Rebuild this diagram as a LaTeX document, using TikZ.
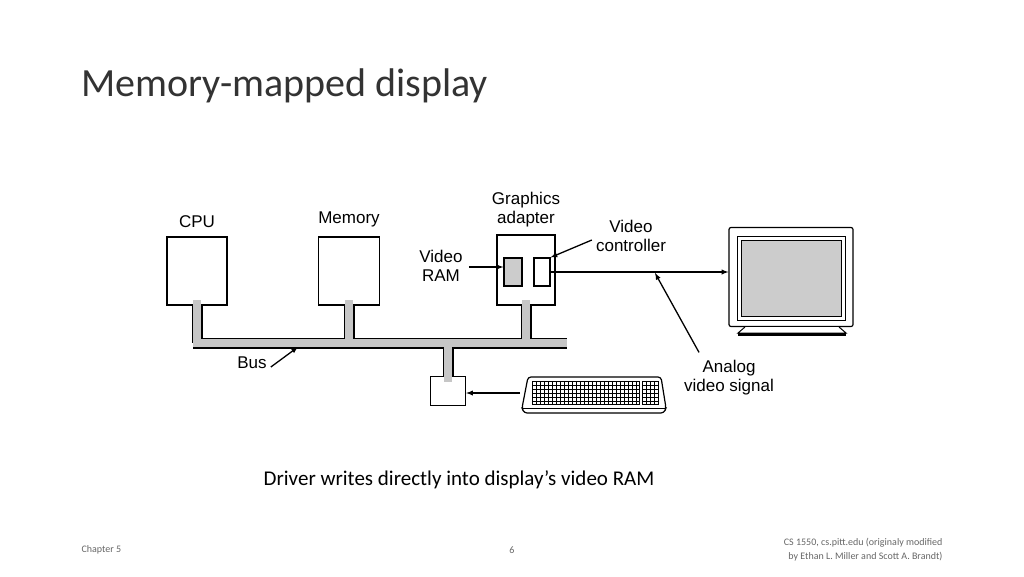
\documentclass[tikz,border=0pt]{standalone}
\usepackage{fontspec}
\setmainfont{Carlito}
\newfontfamily\figfont{Liberation Sans}
\usetikzlibrary{positioning}
\tikzset{
  unit/.style={draw,line width=1.2pt,fill=white,inner sep=0pt},
  lbl/.style={font=\figfont\fontsize{17}{19}\selectfont,align=center,inner sep=0pt},
  ptr/.style={-latex,line width=1.3pt},
  pipeout/.style={line width=11pt,black},
  pipein/.style={line width=8pt,gray!45},
}
\begin{document}
\begin{tikzpicture}[x=1pt,y=-1pt]
\useasboundingbox (0,0) rectangle (1024,576);
% title
\node[anchor=west,font=\fontsize{40}{44}\selectfont,text=black!80] (title) at (78,86) {Memory-mapped display};
% units
\node[unit,minimum width=60,minimum height=68] (cpu) at (197,271) {};
\node[unit,minimum width=61,minimum height=68] (mem) at (349,271) {};
\node[unit,minimum width=58,minimum height=70] (gfx) at (526,270) {};
\node[unit,minimum width=35,minimum height=29] (kbc) at (448,391) {};
\node[lbl,above=9pt of cpu] (cpulbl) {CPU};
\node[lbl,above=9pt of mem] (memlbl) {Memory};
\node[lbl,above=7pt of gfx] (gfxlbl) {Graphics\\adapter};
% bus
\foreach \s in {pipeout,pipein}{
  \draw[\s] (193,343) -- (567,343);
  \draw[\s] (cpu.south) -- (197,343);
  \draw[\s] (mem.south) -- (349,343);
  \draw[\s] (gfx.south) -- (526,343);
  \draw[\s] (448,343) -- (kbc.north);
}
\draw[pipein] (197,300) -- (197,338);
\draw[pipein] (349,300) -- (349,338);
\draw[pipein] (526,300) -- (526,338);
\draw[pipein] (448,348) -- (448,382);
% video ram and controller
\node[unit,fill=gray!40,minimum width=18,minimum height=28] (vram) at (513,272) {};
\node[unit,minimum width=16,minimum height=28] (vctl) at (542,272) {};
\node[lbl] (vramlbl) at (441,266) {Video\\RAM};
\node[lbl] (vctllbl) at (631,236) {Video\\controller};
\draw[ptr] (vramlbl.east) ++(6,1) coordinate (vr0) -- (vram.west |- vr0);
\draw[ptr] (vctllbl.west) ++(-4,4) coordinate (vc0) -- (vctl.north east);
% monitor
\node[unit,minimum width=124,minimum height=99,rounded corners=2pt] (mon) at (791,277) {};
\draw[line width=1pt] (737,236) rectangle (845,320);
\fill[gray!40,draw=black,line width=0.8pt] (741,240) rectangle (841,316);
\draw[line width=1pt,fill=white] (745,327) -- (738,333) -- (846,333) -- (839,327);
\fill (738,333) rectangle (846,336);
\draw[ptr] (vctl.east) -- (mon.west |- vctl.east) coordinate (sig);
\node[lbl] (anlbl) at (729,378) {Analog\\video signal};
\draw[ptr] (anlbl.north) ++(-30,-8) -- (655,273);
% keyboard
\coordinate (kb) at (522,377);
\draw[line width=1.2pt,fill=white,rounded corners=3pt] (528,377) -- (661,377) -- (666,408) -- (664,413) -- (524,413) -- (522,408) -- cycle;
\draw[line width=0.8pt] (522,408) -- (666,408);
\draw[line width=0.8pt] (532,381) rectangle (639,404);
\draw[line width=0.8pt] (642,381) rectangle (658,404);
\foreach \x in {536,540,...,636} \draw[line width=0.5pt] (\x,381) -- (\x,404);
\foreach \x in {646,650,654} \draw[line width=0.5pt] (\x,381) -- (\x,404);
\foreach \y in {385,389,...,401} \draw[line width=0.5pt] (532,\y) -- (639,\y) (642,\y) -- (658,\y);
\draw[ptr] (520,393) -- (kbc.east |- 0,393);
% bus label
\node[lbl] (buslbl) at (252,363) {Bus};
\draw[ptr] (buslbl.east) ++(4,4) -- (298,347);
% caption and footer
\node[font=\fontsize{21}{24}\selectfont] (cap) at (459,480) {Driver writes directly into display's video RAM};
\node[anchor=west,font=\fontsize{10}{12}\selectfont,text=black!60] (chap) at (78,550) {Chapter 5};
\node[font=\fontsize{10}{12}\selectfont,text=black!60] (page) at (512,550) {6};
\node[anchor=east,align=right,font=\fontsize{10}{14}\selectfont,text=black!60] (cred) at (946,550) {CS 1550, cs.pitt.edu (originaly modified\\by Ethan L. Miller and Scott A. Brandt)};
\end{tikzpicture}
\end{document}
